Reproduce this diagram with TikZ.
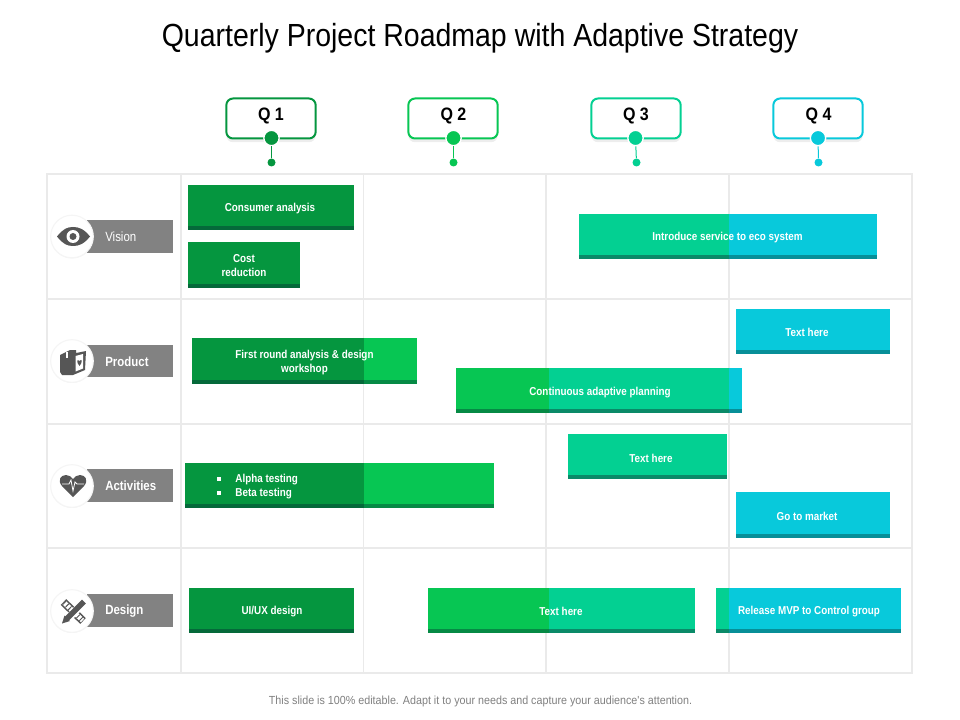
\documentclass[tikz,border=0pt]{standalone}
\usepackage{fontspec}
\usepackage{xcolor}
\usetikzlibrary{shadows}
\setmainfont{Liberation Sans}
\newfontfamily\TitleFont[FakeStretch=0.89]{Liberation Sans}
\newfontfamily\FootFont[FakeStretch=0.915]{Liberation Sans}
\newfontfamily\BarFont[FakeStretch=0.86,BoldFont={Liberation Sans Bold}]{Liberation Sans}
\definecolor{QOne}{HTML}{05963F}
\definecolor{QTwo}{HTML}{07C653}
\definecolor{QThree}{HTML}{03D092}
\definecolor{QFour}{HTML}{08C9DB}
\definecolor{QOneDark}{HTML}{05693A}
\definecolor{QTwoDark}{HTML}{068A45}
\definecolor{QThreeDark}{HTML}{0A8A68}
\definecolor{QFourDark}{HTML}{078F98}
\definecolor{Grille}{HTML}{EAEAEA}
\definecolor{Icone}{HTML}{565656}
\newcommand{\BarPart}[5]{
\fill[#1] (#2,#4) rectangle (#3,#5);
\fill[#1Dark] (#2,#5-4) rectangle (#3,#5);
}
\tikzset{
GridLine/.style={
 draw=Grille,
 line width=0.9pt
 },
QBox/.style={
 draw=#1,
 fill=white,
 line width=1.5pt,
 rounded corners=5pt,
 minimum width=67pt,
 minimum height=30pt,
 inner sep=0pt,
 drop shadow={shadow xshift=0pt,shadow yshift=-2.8pt,opacity=0.07,fill=black}
 },
QText/.style={
 text=black,
 inner sep=0pt,
 yshift=-0.8pt,
 font=\TitleFont\bfseries\fontsize{13.5}{15}\selectfont
 },
QDot/.style={
 fill=#1,
 draw=white,
 line width=1pt,
 circle,
 minimum size=11.5pt,
 inner sep=0pt
 },
QEnd/.style={
 fill=#1,
 circle,
 minimum size=6pt,
 inner sep=0pt
 },
BarText/.style={
 text=white,
 align=center,
 inner sep=0pt,
 yshift=-1pt,
 font=\BarFont\bfseries\fontsize{8.6}{10.5}\selectfont
 },
LabelBar/.style={
 fill=gray!98,
 minimum width=64.5pt,
 minimum height=24.5pt,
 inner sep=0pt
 },
LabelText/.style={
 text=white,
 anchor=west,
 inner sep=0pt,
 font=\BarFont\bfseries\fontsize{10}{12}\selectfont
 },
IconCircle/.style={
 fill=white,
 draw=black!4,
 line width=0.8pt,
 circle,
 minimum size=32pt,
 inner sep=0pt,
 drop shadow={shadow xshift=0pt,shadow yshift=-0.5pt,opacity=0.05,fill=black}
 }
}
\begin{document}
\begin{tikzpicture}[x=0.75pt,y=-0.75pt]
\useasboundingbox (0,0) rectangle (960,720);
\fill[white] (0,0) rectangle (960,720);
\node[inner sep=0pt,yshift=-1.5pt,font=\TitleFont\fontsize{24}{28}\selectfont] (title) at (480,36) {Quarterly Project Roadmap with Adaptive Strategy};
\draw[GridLine] (47,174) rectangle (912,673);
\draw[GridLine] (181,174) -- (181,673);
\draw[GridLine] (363.5,174) -- (363.5,673);
\draw[GridLine] (546,174) -- (546,673);
\draw[GridLine] (729,174) -- (729,673);
\draw[GridLine] (47,299) -- (912,299);
\draw[GridLine] (47,424) -- (912,424);
\draw[GridLine] (47,548) -- (912,548);
\node[QBox=QOne] (qun) at (271,118.5) {};
\node[QBox=QTwo] (qdeux) at (453,118.5) {};
\node[QBox=QThree] (qtrois) at (636,118.5) {};
\node[QBox=QFour] (qquatre) at (818,118.5) {};
\node[QText] (tun) at (271,115) {Q 1};
\node[QText] (tdeux) at (453.5,115) {Q 2};
\node[QText] (ttrois) at (636,115) {Q 3};
\node[QText] (tquatre) at (818.5,115) {Q 4};
\node[QDot=QOne] (dun) at (271.5,138) {};
\node[QDot=QTwo] (ddeux) at (453.5,138) {};
\node[QDot=QThree] (dtrois) at (635.5,138) {};
\node[QDot=QFour] (dquatre) at (818,138) {};
\node[QEnd=QOne] (eun) at (271.5,162.5) {};
\node[QEnd=QTwo] (edeux) at (453.5,162.5) {};
\node[QEnd=QThree] (etrois) at (636.5,162.5) {};
\node[QEnd=QFour] (equatre) at (818.5,162.5) {};
\draw[QOne,line width=0.75pt] (dun) -- (eun);
\draw[QTwo,line width=0.75pt] (ddeux) -- (edeux);
\draw[QThree,line width=0.75pt] (dtrois) -- (etrois);
\draw[QFour,line width=0.75pt] (dquatre) -- (equatre);
\node[LabelBar] (bvision) at (130,236.5) {};
\node[LabelBar] (bproduct) at (130,361) {};
\node[LabelBar] (bactivities) at (130,485.5) {};
\node[LabelBar] (bdesign) at (130,610.5) {};
\node[IconCircle] (cvision) at (72,236.5) {};
\node[IconCircle] (cproduct) at (72,361) {};
\node[IconCircle] (cactivities) at (72,486) {};
\node[IconCircle] (cdesign) at (72,611) {};
\node[LabelText,font=\BarFont\fontsize{10}{12}\selectfont] (lvision) at (105,236.5) {Vision};
\node[LabelText] (lproduct) at (105,361.5) {Product};
\node[LabelText] (lactivities) at (105,486) {Activities};
\node[LabelText] (ldesign) at (105,611) {Design};
\fill[Icone] (57,236.5) .. controls (63,229) and (67,227) .. (73,227) .. controls (79,227) and (84,229) .. (90,236.5) .. controls (84,244) and (79,246) .. (73,246) .. controls (67,246) and (63,244) .. (57,236.5) -- cycle;
\fill[white] (73,236.5) circle (6.5);
\fill[Icone] (73,236.5) circle (3.5);
\fill[Icone] (60,355) -- (70,350) -- (76,350) -- (76,353) -- (86,351) -- (85,370) -- (73,375) -- (62,375) -- (60,372) -- cycle;
\fill[white] (66,352) -- (67.5,352) -- (67.5,358) -- (66,358) -- cycle;
\fill[white] (75.5,356) -- (83,354) -- (83,368.5) -- (75.5,371.5) -- cycle;
\fill[Icone] (79.5,366) .. controls (76,362) and (77,358.5) .. (79.5,361) .. controls (82,358) and (83,362) .. (79.5,366) -- cycle;
\fill[Icone] (73,497) -- (62,486) .. controls (57,480) and (61,475) .. (66,475) .. controls (69,475) and (72,477) .. (73,479) .. controls (74,477) and (77,475) .. (80,475) .. controls (85,475) and (89,480) .. (84,486) -- cycle;
\draw[white,line width=0.6pt] (62,484) -- (69,484) -- (71,480) -- (73,491) -- (75,482) -- (77,484) -- (84,484);
\draw[Icone,line width=6pt] (63.5,602) -- (83,621);
\draw[white,line width=3.6pt] (64,602.5) -- (82.5,620.5);
\draw[Icone,line width=3.6pt,dash pattern=on 0.7pt off 2.2pt] (64,602.5) -- (82.5,620.5);
\draw[white,line width=5.6pt] (84.5,602) -- (66.5,620);
\draw[Icone,line width=4pt] (84,601.5) -- (67,618.5);
\fill[Icone] (64.5,615.5) -- (70,621) -- (62,623.5) -- cycle;
\BarPart{QOne}{188}{354}{185}{230}
\node[BarText] (consumer) at (270,207) {Consumer analysis};
\BarPart{QOne}{188}{300}{242}{288}
\node[BarText] (cost) at (244,264.5) {Cost\\reduction};
\BarPart{QThree}{579}{729}{214}{259}
\BarPart{QFour}{729}{877}{214}{259}
\node[BarText] (service) at (727.5,236) {Introduce service to eco system};
\BarPart{QFour}{736}{890}{309}{354}
\node[BarText] (textone) at (807,331) {Text here};
\BarPart{QOne}{192}{364}{338}{384}
\BarPart{QTwo}{364}{417}{338}{384}
\node[BarText] (round) at (304.5,361) {First round analysis \& design\\workshop};
\BarPart{QTwo}{456}{549}{368}{413}
\BarPart{QThree}{549}{729}{368}{413}
\BarPart{QFour}{729}{742}{368}{413}
\node[BarText] (planning) at (600,391) {Continuous adaptive planning};
\BarPart{QThree}{568}{727}{434}{479}
\node[BarText] (texttwo) at (651,457) {Text here};
\BarPart{QFour}{736}{890}{492}{538}
\node[BarText] (market) at (807,515) {Go to market};
\BarPart{QOne}{185}{364}{463}{508}
\BarPart{QTwo}{364}{494}{463}{508}
\node[BarText,align=left,anchor=west] (testing) at (217,485) {\rule[1.2pt]{3pt}{3pt}\hspace{10.6pt}Alpha testing\\\rule[1.2pt]{3pt}{3pt}\hspace{10.6pt}Beta testing};
\BarPart{QOne}{189}{354}{588}{633}
\node[BarText] (uiux) at (272,610) {UI/UX design};
\BarPart{QTwo}{428}{549}{588}{633}
\BarPart{QThree}{549}{695}{588}{633}
\node[BarText] (textthree) at (561,610) {Text here};
\BarPart{QThree}{716}{729}{588}{633}
\BarPart{QFour}{729}{901}{588}{633}
\node[BarText] (release) at (809,610) {Release MVP to Control group};
\node[inner sep=0pt,text=gray,font=\FootFont\fontsize{8.8}{11}\selectfont] (note) at (480.5,701) {This slide is 100\% editable. Adapt it to your needs and capture your audience's attention.};
\end{tikzpicture}
\end{document}
